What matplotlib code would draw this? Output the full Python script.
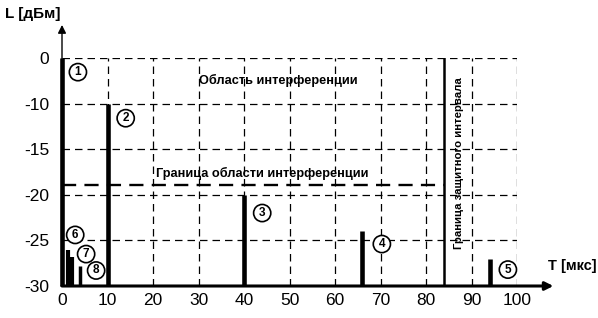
import matplotlib
matplotlib.use("Agg")
import matplotlib.pyplot as plt
import numpy as np

plt.rcParams['font.family'] = ['Liberation Sans', 'DejaVu Sans']

# peaks: time [мкс] and level [дБм]
peak_t = [0, 10, 40, 66, 94, 1.3, 2.3, 4]
peak_l = [0, -10, -20, -24, -27, -26.1, -26.8, -27.8]
peak_w = [3.3, 3.3, 3.3, 3.3, 3.3, 3, 3, 2.5]
peak_names = ['1', '2', '3', '4', '5', '6', '7', '8']
label_t = [3.5, 14, 44, 70.3, 98, 2.9, 5.3, 7.5]
label_l = [-3.1, -11.6, -22, -25.4, -28.2, -24.4, -26.5, -28.3]

border_level = -18.9
guard_t = 84
x_ticks = [0, 10, 20, 30, 40, 50, 60, 70, 80, 90, 100]
y_ticks = [0, -10, -15, -20, -25, -30]


def fwd(y):
    y = np.asarray(y, dtype=float)
    return np.where(y >= -10, y / 10.0, -1 + (y + 10) / 5.0)


def inv(p):
    p = np.asarray(p, dtype=float)
    return np.where(p >= -1, p * 10.0, (p + 1) * 5.0 - 10)


fig = plt.figure(figsize=(5.98, 3.18), dpi=100)
ax = fig.add_axes([62 / 598, 1 - 286 / 318, 455 / 598, 228 / 318])
ax.set_yscale('function', functions=(fwd, inv))
ax.set_xlim(0, 100)
ax.set_ylim(-30, 0)

# grid
for t in x_ticks[1:]:
    ax.plot([t, t], [-30, 0], color='black', lw=0.9, ls=(0, (6, 4)))
for l in y_ticks[:-1]:
    ax.plot([0, 100], [l, l], color='black', lw=0.9, ls=(0, (6, 4)))

# peaks
for t, l, w in zip(peak_t, peak_l, peak_w):
    ax.plot([t, t], [-30, l], color='black', lw=w, solid_capstyle='butt', clip_on=False)

for name, t, l in zip(peak_names, label_t, label_l):
    ax.text(t, l, name, ha='center', va='center', fontsize=8.5, fontweight='bold',
            bbox=dict(boxstyle='circle,pad=0.22', fc='white', ec='black', lw=1.2))

# guard interval and interference border
ax.plot([guard_t, guard_t], [-30, 0], color='black', lw=1.8)
ax.plot([0, guard_t], [border_level, border_level], color='black', lw=1.7,
        ls=(0, (6, 3.5)))
ax.text(44, -18.4, 'Граница области интерференции', ha='center', va='bottom',
        fontsize=9.2, fontweight='bold')
ax.text(47.5, -5, 'Область интерференции', ha='center', va='center',
        fontsize=9.2, fontweight='bold')
ax.text(87.2, -16.5, 'Граница защитного интервала', ha='center', va='center',
        rotation=90, fontsize=8.2, fontweight='bold')

# axes with arrows
for s in ax.spines.values():
    s.set_visible(False)
ax.annotate('', xy=(0, 1.145), xytext=(0, 0), xycoords='axes fraction',
            arrowprops=dict(arrowstyle='-|>', color='black', lw=1.0,
                            mutation_scale=12, shrinkA=0, shrinkB=0))
ax.annotate('', xy=(1.08, 0), xytext=(0, 0), xycoords='axes fraction',
            arrowprops=dict(arrowstyle='-|>', color='black', lw=2.2,
                            mutation_scale=12, shrinkA=0, shrinkB=0))
fig.text(5 / 598, 1 - 14 / 318, 'L [дБм]', ha='left', va='center',
         fontsize=11, fontweight='bold')
fig.text(548 / 598, 1 - 266 / 318, 'Т [мкс]', ha='left', va='center',
         fontsize=10.5, fontweight='bold')

ax.set_xticks(x_ticks)
ax.set_yticks(y_ticks)
ax.set_yticklabels([str(v) for v in y_ticks])
ax.tick_params(length=0, labelsize=12.5)
ax.tick_params(axis='x', pad=5)
ax.tick_params(axis='y', pad=9)
ax.minorticks_off()

fig.savefig('out.png', dpi=100)
